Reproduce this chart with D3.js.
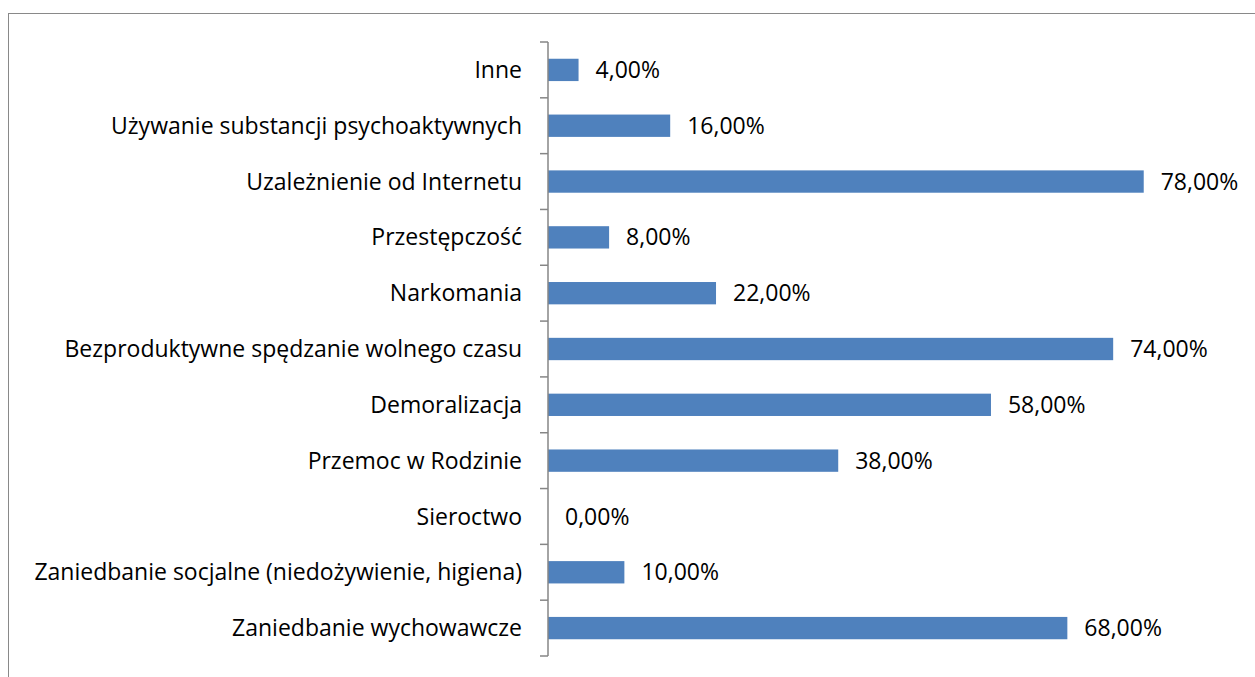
<!DOCTYPE html>
<html>
<head>
<meta charset="utf-8">
<script src="https://cdn.jsdelivr.net/npm/d3@7.9.0/dist/d3.min.js"></script>
<style>
  body { margin: 0; background: #fff; }
  svg { display: block; }
  text { font-family: "Open Sans", sans-serif; fill: #000; }
</style>
</head>
<body>
<svg id="chart" width="1255" height="677"></svg>
<script>
// categories top to bottom
const categories = [
  'Inne',
  'Używanie substancji psychoaktywnych',
  'Uzależnienie od Internetu',
  'Przestępczość',
  'Narkomania',
  'Bezproduktywne spędzanie wolnego czasu',
  'Demoralizacja',
  'Przemoc w Rodzinie',
  'Sieroctwo',
  'Zaniedbanie socjalne (niedożywienie, higiena)',
  'Zaniedbanie wychowawcze'
];
const values = [0.04, 0.16, 0.78, 0.08, 0.22, 0.74, 0.58, 0.38, 0.00, 0.10, 0.68];

const svg = d3.select('#chart');

//chart frame
svg.append('rect')
  .attr('x', 8.5).attr('y', 13.5)
  .attr('width', 1300).attr('height', 700)
  .attr('fill', 'none')
  .attr('stroke', '#898989')
  .attr('stroke-width', 1);

const x = d3.scaleLinear().domain([0, 0.8]).range([548, 1159]);
const y = d3.scaleBand()
  .domain(categories)
  .range([42, 656])
  .paddingInner(0.6)
  .paddingOuter(0.3);

const step = y.step();
const fmt = v => (v * 100).toFixed(2).replace('.', ',') + '%';

//bars
svg.append('g')
  .selectAll('rect')
  .data(values)
  .join('rect')
  .attr('x', x(0))
  .attr('y', (d, i) => y(categories[i]))
  .attr('width', d => x(d) - x(0))
  .attr('height', y.bandwidth())
  .attr('fill', '#4f81bd');

//axis line + ticks at band boundaries
const bounds = d3.range(categories.length + 1).map(i => y.range()[0] + i * step);
const axis = svg.append('g').attr('stroke', '#868686').attr('stroke-width', 1.5);
axis.append('line')
  .attr('x1', 548).attr('x2', 548)
  .attr('y1', bounds[0]).attr('y2', bounds[bounds.length - 1]);
axis.selectAll('line.tick')
  .data(bounds)
  .join('line')
  .attr('class', 'tick')
  .attr('x1', 540).attr('x2', 548)
  .attr('y1', d => d).attr('y2', d => d);

//category labels
svg.append('g')
  .selectAll('text')
  .data(categories)
  .join('text')
  .attr('x', 522)
  .attr('y', d => y(d) + y.bandwidth() / 2)
  .attr('dy', '0.35em')
  .attr('text-anchor', 'end')
  .attr('font-size', 23)
  .text(d => d);

//value labels
svg.append('g')
  .selectAll('text')
  .data(values)
  .join('text')
  .attr('x', d => x(d) + 17)
  .attr('y', (d, i) => y(categories[i]) + y.bandwidth() / 2)
  .attr('dy', '0.35em')
  .attr('font-size', 23)
  .text(d => fmt(d));
</script>
</body>
</html>
